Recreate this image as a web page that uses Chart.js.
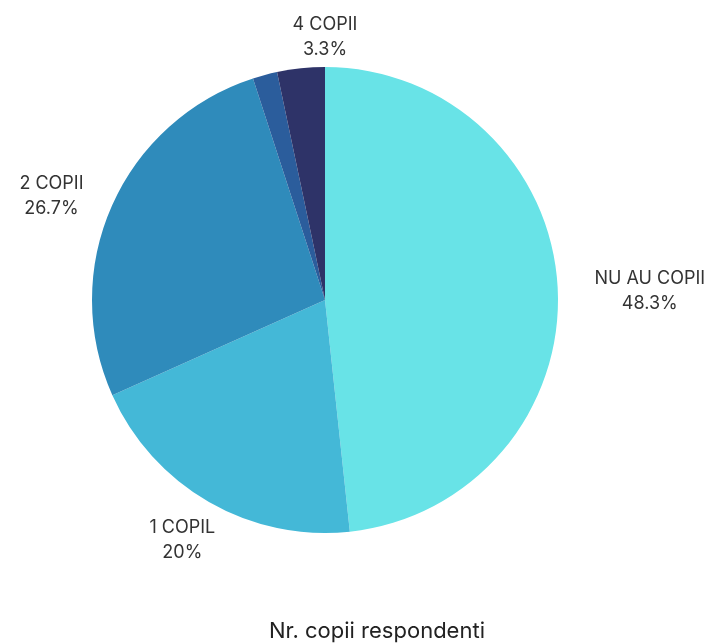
<!DOCTYPE html>
<html>
<head>
<meta charset="utf-8">
<script src="https://cdn.jsdelivr.net/npm/chart.js@4"></script>
<style>
  html, body { margin: 0; padding: 0; background: #fff; }
  #wrap { width: 711px; height: 643px; position: relative; }
</style>
</head>
<body>
<div id="wrap"><canvas id="chart"></canvas></div>
<script>
// chart data
const categories = ['NU AU COPII', '1 COPIL', '2 COPII', '3 COPII', '4 COPII'];
const values = [48.3, 20, 26.7, 1.7, 3.3];
const valueLabels = ['48.3%', '20%', '26.7%', '', '3.3%'];
const showLabel = [true, true, true, false, true];
const colors = ['#68E3E7', '#44B8D7', '#2F8BBB', '#2B5D9C', '#2E3368'];
const chartTitle = 'Nr. copii respondenti';

// draws the category + percent labels outside the slices and the title underneath
const outsideLabels = {
    id: 'outsideLabels',
    afterDraw(chart) {
        const ctx = chart.ctx;
        const meta = chart.getDatasetMeta(0);
        ctx.save();
        ctx.fillStyle = '#333';
        ctx.font = '18px Inter, "Open Sans", sans-serif';
        ctx.textBaseline = 'middle';
        ctx.textAlign = 'center';
        meta.data.forEach((arc, i) => {
            if (!showLabel[i]) return;
            const mid = (arc.startAngle + arc.endAngle) / 2;
            const r = arc.outerRadius + 37;
            const cx = Math.cos(mid), sy = Math.sin(mid);
            // half width of the widest line, pushes the block sideways away from the pie
            const hw = Math.max(ctx.measureText(categories[i]).width,
                                ctx.measureText(valueLabels[i]).width) / 2;
            let x = arc.x + cx * r + cx * Math.abs(cx) * hw;
            let y = arc.y + sy * r + 5;
            if (Math.abs(cx) < 0.3) x = Math.max(x, arc.x);
            ctx.fillText(categories[i], x, y - 12);
            ctx.fillText(valueLabels[i], x, y + 13);
        });
        ctx.font = '22px Inter, "Open Sans", sans-serif';
        ctx.fillStyle = '#222';
        ctx.fillText(chartTitle, 377, 631);
        ctx.restore();
    }
};

new Chart(document.getElementById('chart'), {
    type: 'pie',
    data: {
        labels: categories,
        datasets: [{
            data: values,
            backgroundColor: colors,
            borderWidth: 0
        }]
    },
    options: {
        responsive: true,
        maintainAspectRatio: false,
        animation: false,
        layout: {
            padding: { left: 92, right: 153, top: 67, bottom: 110 }
        },
        plugins: {
            legend: { display: false },
            tooltip: { enabled: false }
        }
    },
    plugins: [outsideLabels]
});
</script>
</body>
</html>
